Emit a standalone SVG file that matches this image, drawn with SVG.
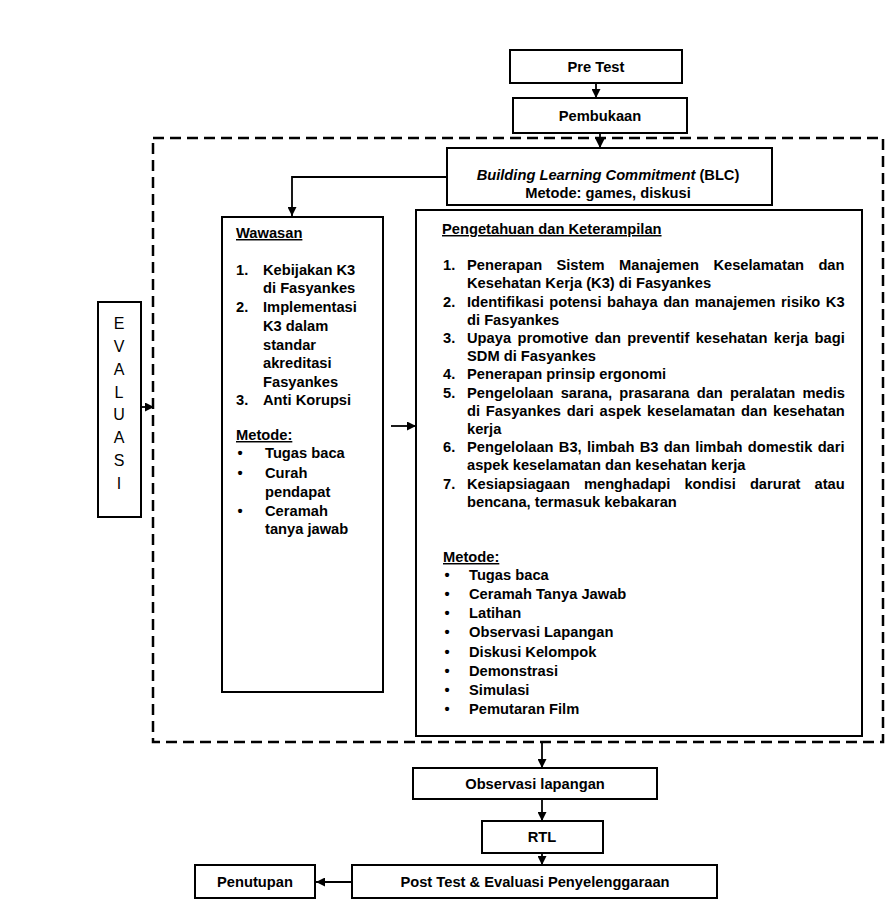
<svg xmlns="http://www.w3.org/2000/svg" width="886" height="907" viewBox="0 0 886 907">
<defs>
<style>
.box{fill:#fff;stroke:#000;stroke-width:2}
.t{font-family:"Liberation Sans",Arial,sans-serif;font-weight:bold;font-size:14.7px;fill:#000}
.c{text-anchor:middle}
.u{text-decoration:underline}
.ev{font-family:"Liberation Sans",Arial,sans-serif;font-size:16px;fill:#000;text-anchor:middle}
.conn{fill:none;stroke:#000;stroke-width:1.8}
.dash{fill:none;stroke:#000;stroke-width:2.5;stroke-dasharray:11 6}
</style>
<marker id="ah" viewBox="0 0 10 10" refX="10" refY="5" markerWidth="9" markerHeight="9" markerUnits="userSpaceOnUse" orient="auto">
<path d="M0,0 L10,5 L0,10 z" fill="#000"/>
</marker>
</defs>
<rect width="886" height="907" fill="#fff"/>

<g id="frame">
<rect class="dash" x="153" y="138" width="730" height="604"/>
</g>

<g id="pretest">
<rect class="box" x="510" y="50" width="172" height="33"/>
<text class="t c" x="596" y="72">Pre Test</text>
</g>

<g id="pembukaan">
<rect class="box" x="513" y="98" width="174" height="35"/>
<text class="t c" x="600" y="121">Pembukaan</text>
</g>

<g id="blc">
<rect class="box" x="447" y="148" width="325" height="57"/>
<text class="t c" x="608" y="180"><tspan font-style="italic">Building Learning Commitment</tspan> (BLC)</text>
<text class="t c" x="608" y="198">Metode: games, diskusi</text>
</g>

<g id="evaluasi">
<rect class="box" x="98" y="302" width="43" height="215"/>
<text class="ev" x="119" y="329">E</text>
<text class="ev" x="119" y="352">V</text>
<text class="ev" x="119" y="375">A</text>
<text class="ev" x="119" y="398">L</text>
<text class="ev" x="119" y="420">U</text>
<text class="ev" x="119" y="443">A</text>
<text class="ev" x="119" y="466">S</text>
<text class="ev" x="119" y="489">I</text>
</g>

<g id="wawasan">
<rect class="box" x="222" y="217" width="161" height="475"/>
<text class="t u" x="236" y="238">Wawasan</text>
<text class="t" x="236" y="275">1.</text>
<text class="t" x="263" y="275">Kebijakan K3</text>
<text class="t" x="263" y="293">di Fasyankes</text>
<text class="t" x="236" y="312">2.</text>
<text class="t" x="263" y="312">Implementasi</text>
<text class="t" x="263" y="331">K3 dalam</text>
<text class="t" x="263" y="350">standar</text>
<text class="t" x="263" y="368">akreditasi</text>
<text class="t" x="263" y="387">Fasyankes</text>
<text class="t" x="236" y="405">3.</text>
<text class="t" x="263" y="405">Anti Korupsi</text>
<text class="t u" x="236" y="440">Metode:</text>
<text class="t c" x="240" y="458">•</text>
<text class="t" x="265" y="458">Tugas baca</text>
<text class="t c" x="240" y="478">•</text>
<text class="t" x="265" y="478">Curah</text>
<text class="t" x="265" y="497">pendapat</text>
<text class="t c" x="240" y="516">•</text>
<text class="t" x="265" y="516">Ceramah</text>
<text class="t" x="265" y="534">tanya jawab</text>
</g>

<g id="pengetahuan">
<rect class="box" x="416" y="210" width="446" height="526"/>
<text class="t u" x="442" y="234">Pengetahuan dan Keterampilan</text>
<text class="t" x="443" y="270">1.</text>
<text class="t" x="467" y="270" word-spacing="10.3">Penerapan Sistem Manajemen Keselamatan dan</text>
<text class="t" x="467" y="288">Kesehatan Kerja (K3) di Fasyankes</text>
<text class="t" x="443" y="307">2.</text>
<text class="t" x="467" y="307" word-spacing="1.44">Identifikasi potensi bahaya dan manajemen risiko K3</text>
<text class="t" x="467" y="325">di Fasyankes</text>
<text class="t" x="443" y="343">3.</text>
<text class="t" x="467" y="343" word-spacing="2.28">Upaya promotive dan preventif kesehatan kerja bagi</text>
<text class="t" x="467" y="361">SDM di Fasyankes</text>
<text class="t" x="443" y="379">4.</text>
<text class="t" x="467" y="379">Penerapan prinsip ergonomi</text>
<text class="t" x="443" y="398">5.</text>
<text class="t" x="467" y="398" word-spacing="3.09">Pengelolaan sarana, prasarana dan peralatan medis</text>
<text class="t" x="467" y="416" word-spacing="1.74">di Fasyankes dari aspek keselamatan dan kesehatan</text>
<text class="t" x="467" y="434">kerja</text>
<text class="t" x="443" y="452">6.</text>
<text class="t" x="467" y="452" word-spacing="1.24">Pengelolaan B3, limbah B3 dan limbah domestik dari</text>
<text class="t" x="467" y="470">aspek keselamatan dan kesehatan kerja</text>
<text class="t" x="443" y="489">7.</text>
<text class="t" x="467" y="489" word-spacing="9.96">Kesiapsiagaan menghadapi kondisi darurat atau</text>
<text class="t" x="467" y="507">bencana, termasuk kebakaran</text>
<text class="t u" x="443" y="562">Metode:</text>
<text class="t c" x="447" y="580">•</text>
<text class="t" x="469" y="580">Tugas baca</text>
<text class="t c" x="447" y="599">•</text>
<text class="t" x="469" y="599">Ceramah Tanya Jawab</text>
<text class="t c" x="447" y="618">•</text>
<text class="t" x="469" y="618">Latihan</text>
<text class="t c" x="447" y="637">•</text>
<text class="t" x="469" y="637">Observasi Lapangan</text>
<text class="t c" x="447" y="657">•</text>
<text class="t" x="469" y="657">Diskusi Kelompok</text>
<text class="t c" x="447" y="676">•</text>
<text class="t" x="469" y="676">Demonstrasi</text>
<text class="t c" x="447" y="695">•</text>
<text class="t" x="469" y="695">Simulasi</text>
<text class="t c" x="447" y="714">•</text>
<text class="t" x="469" y="714">Pemutaran Film</text>
</g>

<g id="observasi">
<rect class="box" x="413" y="768" width="244" height="31"/>
<text class="t c" x="535" y="789">Observasi lapangan</text>
</g>

<g id="rtl">
<rect class="box" x="482" y="821" width="121" height="32"/>
<text class="t c" x="542" y="842">RTL</text>
</g>

<g id="posttest">
<rect class="box" x="352" y="865" width="365" height="33"/>
<text class="t c" x="535" y="887">Post Test &amp; Evaluasi Penyelenggaraan</text>
</g>

<g id="penutupan">
<rect class="box" x="195" y="865" width="120" height="33"/>
<text class="t c" x="255" y="887">Penutupan</text>
</g>

<g id="connectors">
<path class="conn" d="M596,83 V98" marker-end="url(#ah)"/>
<path class="conn" d="M600,133 V148" marker-end="url(#ah)"/>
<path class="conn" d="M447,177 H292 V216" marker-end="url(#ah)"/>
<path class="conn" d="M391,426 H416" marker-end="url(#ah)"/>
<path class="conn" d="M141,407 H154" marker-end="url(#ah)"/>
<path class="conn" d="M542,742 V768" marker-end="url(#ah)"/>
<path class="conn" d="M542,799 V821" marker-end="url(#ah)"/>
<path class="conn" d="M542,853 V865" marker-end="url(#ah)"/>
<path class="conn" d="M352,882 H316" marker-end="url(#ah)"/>
</g>
</svg>
